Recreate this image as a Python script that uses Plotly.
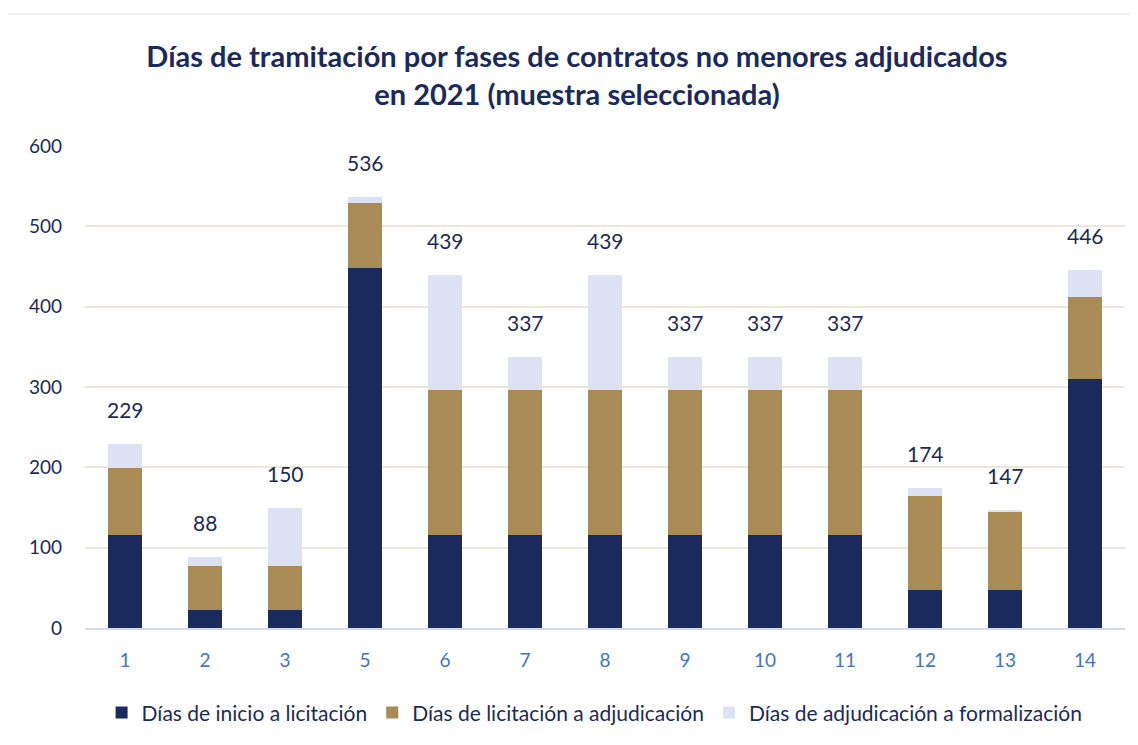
import plotly.graph_objects as go

categories = ["1", "2", "3", "5", "6", "7", "8", "9", "10", "11", "12", "13", "14"]
inicio_licitacion = [116, 22, 22, 448, 116, 116, 116, 116, 116, 116, 47, 47, 310]
licitacion_adjudicacion = [83, 55, 55, 81, 180, 180, 180, 180, 180, 180, 117, 97, 102]
totales = [229, 88, 150, 536, 439, 337, 439, 337, 337, 337, 174, 147, 446]
adjudicacion_formalizacion = [t - a - b for t, a, b in zip(totales, inicio_licitacion, licitacion_adjudicacion)]

series_names = ["Días de inicio a licitación", "Días de licitación a adjudicación", "Días de adjudicación a formalización"]
colors = ["#1B2A5C", "#A88B55", "#DCE1F3"]
navy = "#1B2A5C"
font_family = "Lato, 'Open Sans', sans-serif"

fig = go.Figure()
for name, vals, col in zip(series_names, [inicio_licitacion, licitacion_adjudicacion, adjudicacion_formalizacion], colors):
    fig.add_trace(go.Bar(x=categories, y=vals, name=name, marker=dict(color=col, line=dict(width=0))))

for i, t in enumerate(totales):
    fig.add_annotation(x=i, y=t, text=str(t), showarrow=False, yanchor="bottom", yshift=20,
                       font=dict(size=21, color=navy, family=font_family))

fig.update_layout(
    barmode="stack",
    bargap=0.57,
    width=1138, height=745,
    paper_bgcolor="white", plot_bgcolor="white",
    margin=dict(l=77, r=21, t=138, b=125),
    title=dict(text="<b>Días de tramitación por fases de contratos no menores adjudicados<br>en 2021 (muestra seleccionada)</b>",
               x=0.5, xanchor="center", yref="container", y=0.921, yanchor="middle",
               font=dict(size=29, color=navy, family=font_family)),
    font=dict(family=font_family, color=navy),
    legend=dict(orientation="h", x=0.49, xanchor="center", y=-0.176, yanchor="middle",
                font=dict(size=21, color=navy, family=font_family), traceorder="normal",
                itemwidth=30),
    showlegend=True,
)
fig.update_xaxes(type="category", range=[-0.5, 12.5], showgrid=False, showline=True, linecolor="#D0D9EF", linewidth=2,
                 tickfont=dict(size=19, color="#4472C4"), ticks="", ticklabelstandoff=14)
fig.update_yaxes(range=[0, 600], dtick=100, showgrid=True, gridcolor="#EDE7DA", gridwidth=1.5,
                 zeroline=False, tickfont=dict(size=19, color=navy), ticklabelstandoff=22)
fig.add_shape(type="rect", xref="paper", yref="paper", x0=-0.078, x1=1.03, y0=-0.3, y1=1.274,
              line=dict(color="#E6E1DA", width=1), layer="below")

fig.write_html("out.html")
